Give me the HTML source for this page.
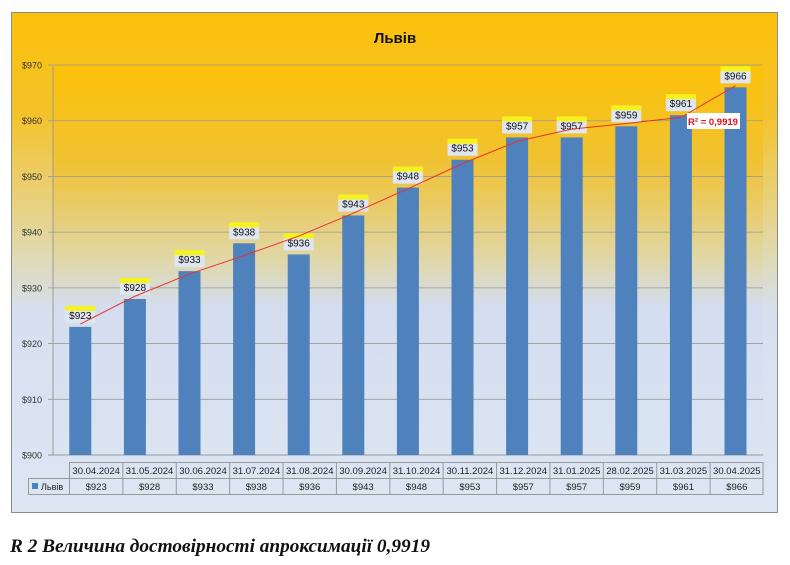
<!DOCTYPE html>
<html><head><meta charset="utf-8"><style>
body{margin:0;background:#fff;width:790px;height:560px;overflow:hidden;font-family:"Liberation Sans",sans-serif}
</style></head><body>
<svg width="790" height="560" xmlns="http://www.w3.org/2000/svg" font-family="Liberation Sans, DejaVu Sans, sans-serif">
<defs>
<linearGradient id="bg" x1="0" y1="0" x2="0" y2="1">
<stop offset="0" stop-color="#fcc10a"/><stop offset="0.2" stop-color="#f4c22a"/><stop offset="0.45" stop-color="#e3d7a0"/><stop offset="0.6" stop-color="#d6e0f0"/><stop offset="1" stop-color="#dde6f2"/></linearGradient>
<linearGradient id="pl" x1="0" y1="0" x2="0" y2="1">
<stop offset="0" stop-color="#fcc108"/><stop offset="0.25" stop-color="#f0c233"/><stop offset="0.5" stop-color="#e0d7a8"/><stop offset="0.62" stop-color="#d3ddef"/><stop offset="1" stop-color="#dbe4f1"/></linearGradient>
</defs>
<rect x="11.5" y="12.5" width="766" height="500" fill="url(#bg)" stroke="#8c8c8c"/>
<rect x="53" y="65" width="710" height="390" fill="url(#pl)"/>
<text x="395" y="43" font-size="15" font-weight="bold" text-anchor="middle" fill="#111">Львів</text>
<g id="g"></g>
<text x="10" y="552" font-family="Liberation Serif, serif" font-size="19" font-weight="bold" font-style="italic" fill="#111" textLength="420" lengthAdjust="spacingAndGlyphs">R 2 Величина достовірності апроксимації 0,9919</text>
</svg>
<script>
const g=document.getElementById('g');let s='';
const d=['30.04.2024','31.05.2024','30.06.2024','31.07.2024','31.08.2024','30.09.2024','31.10.2024','30.11.2024','31.12.2024','31.01.2025','28.02.2025','31.03.2025','30.04.2025'];
const v=[923,928,933,938,936,943,948,953,957,957,959,961,966];
const t=[923.5,928.5,932.5,935.8,939.3,943.4,947.8,952.3,956.3,958.5,959.5,960.6,966.3];
const Y=x=>455-(x-900)*5.571, cw=54.6;
for(let i=0;i<=7;i++){const y=Y(900+i*10);
 s+=`<line x1="48" x2="763" y1="${y}" y2="${y}" stroke="#9a9a9a" stroke-width="${i==0?1:0.8}"/>`;
 s+=`<text x="42" y="${y+3.5}" font-size="9" text-anchor="end" fill="#333">$${900+i*10}</text>`;}
s+=`<line x1="53" x2="53" y1="65" y2="455" stroke="#9a9a9a"/>`;
v.forEach((a,i)=>{const cx=53+cw*(i+0.5),y=Y(a);
 s+=`<rect x="${cx-11}" y="${y}" width="22" height="${455-y}" fill="#4f81bd"/>`;
 s+=`<rect x="${cx-15}" y="${y-19}" width="30" height="15" fill="#dfe6f2"/><rect x="${cx-15}" y="${y-21}" width="30" height="5" fill="#f5f21c"/>`;
 s+=`<text x="${cx}" y="${y-8}" font-size="10" text-anchor="middle" fill="#111">$${a}</text>`;});
let p='M';t.forEach((a,i)=>{p+=(i?' L':'')+(53+cw*(i+0.5))+','+Y(a)});
s+=`<path d="${p}" fill="none" stroke="#e8322a" stroke-width="1"/>`;
s+=`<rect x="687" y="113" width="53" height="16" fill="#fff"/><text x="713" y="125" font-size="9.5" font-weight="bold" text-anchor="middle" fill="#e0101a">R² = 0,9919</text>`;
const tw=(763-69)/13;
s+=`<rect x="28.5" y="478.5" width="734.5" height="16" fill="none" stroke="#999"/><rect x="69.5" y="462.5" width="693.5" height="32" fill="none" stroke="#999"/>`;
s+=`<rect x="32" y="483" width="6" height="6" fill="#4f81bd"/><text x="41" y="490" font-size="9" fill="#222">Львів</text>`;
d.forEach((a,i)=>{const x=69.5+tw*i;
 if(i)s+=`<line x1="${x}" x2="${x}" y1="462" y2="495" stroke="#999"/>`;
 s+=`<text x="${x+tw/2}" y="474" font-size="9.5" text-anchor="middle" fill="#222">${a}</text><text x="${x+tw/2}" y="490" font-size="9.5" text-anchor="middle" fill="#222">$${v[i]}</text>`;});
g.innerHTML=s;
</script>
</body></html>
